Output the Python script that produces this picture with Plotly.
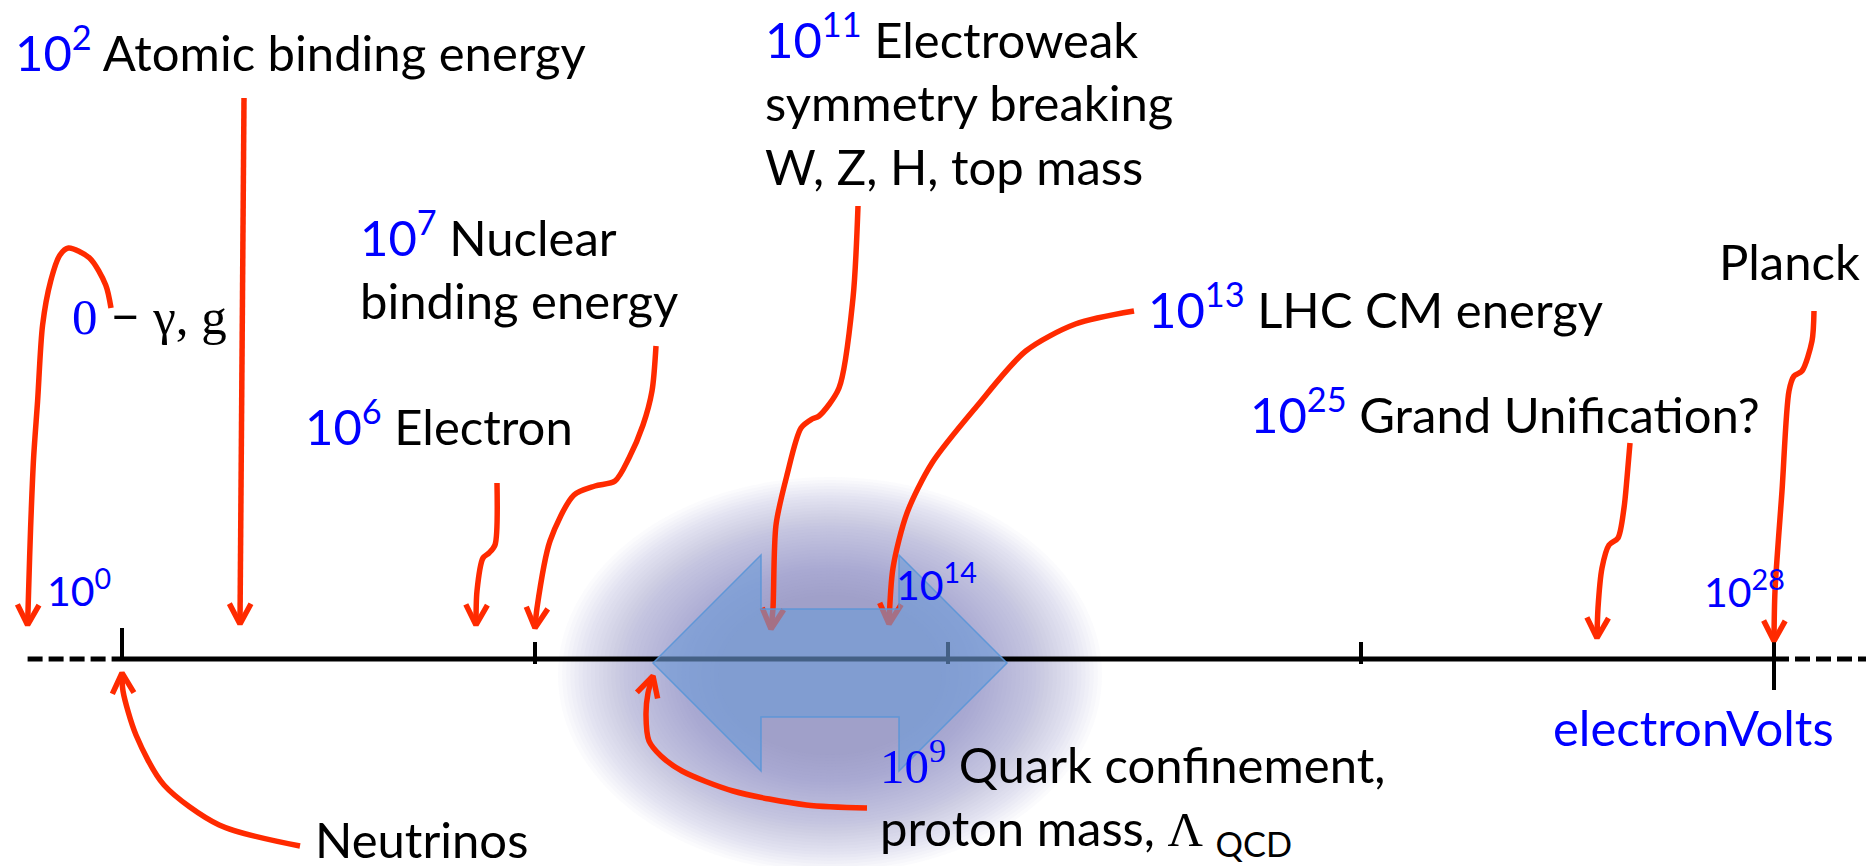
import numpy as np
import plotly.graph_objects as go

# ---------------- data (energy scale, log10 of E / eV) ----------------
tick_exponents = [0, 7, 14, 21, 28]
labelled_ticks = [0, 14, 28]
labelled_tick_text = ["10<sup>0</sup>", "10<sup>14</sup>", "10<sup>28</sup>"]

scale_keys = ["neutrino", "atomic", "electron", "nuclear", "qcd",
              "electroweak", "lhc", "gut", "planck"]
scale_exponents = [0, 2, 6, 7, 9, 11, 13, 25, 28]
massless_position = -1.6      # "0" (photon, gluon): on the broken, dashed part of the axis
probed_range = [9, 15]        # blue double arrow

# ---------------- layout constants ----------------
W, H = 1874, 866
X0_PX, PX_PER_DEC = 114, 59          # pixel of 10^0 and pixels per decade
AXIS_Y = 651
RED = "#ff2a00"
BLUE = "#0000ff"
FONT = "Lato"
SERIF = "Liberation Serif"
FS = 49


def e2px(e):
    return X0_PX + np.asarray(e, float) * PX_PER_DEC


def px2e(p):
    return (np.asarray(p, float) - X0_PX) / PX_PER_DEC


XMIN, XMAX = float(px2e(0)), float(px2e(W))

# hand-drawn connector shapes (pixel waypoints, last point = arrow tip)
connector_paths = {
    "massless": [(103, 300), (98, 277), (83, 250), (63, 240), (55, 247), (47, 273), (40, 317),
                 (35, 393), (31, 450), (28, 520), (26, 583), (25, 617)],
    "neutrino": [(292, 838), (245, 817), (204, 777), (176, 727), (163, 683), (162, 665)],
    "atomic": [(249, 90), (245, 616)],
    "electron": [(457, 475), (455, 537), (449, 545), (443, 550), (437, 583), (436, 617)],
    "nuclear": [(637, 338), (633, 383), (624, 417), (610, 450), (596, 473), (576, 478),
                (555, 487), (531, 533), (518, 600), (516, 620)],
    "qcd": [(859, 800), (793, 797), (717, 783), (666, 763), (645, 748), (633, 733),
            (630, 707), (632, 685), (637, 668)],
    "electroweak": [(831, 198), (826, 290), (812, 380), (792, 408), (785, 411), (774, 420),
                    (760, 467), (749, 517), (746, 600), (744, 621)],
    "lhc": [(1126, 303), (1060, 316), (1000, 343), (950, 398), (905, 455), (880, 505),
            (866, 560), (862, 616)],
    "gut": [(1610, 435), (1607, 470), (1604, 500), (1598, 530), (1589, 537), (1582, 560),
            (1578, 600), (1577, 630)],
    "planck": [(1842, 303), (1840, 333), (1830, 363), (1822, 368), (1817, 383), (1810, 483),
               (1803, 583), (1802, 633)],
}
# connectors whose start stays pinned beside its label (others move as a whole)
pinned_start = {"massless", "neutrino", "qcd", "lhc"}

fig = go.Figure()

# ---------------- axis ----------------
fig.add_trace(go.Scatter(x=[0, 28], y=[AXIS_Y, AXIS_Y], mode="lines",
                         line=dict(color="black", width=5), hoverinfo="skip"))
fig.add_trace(go.Scatter(x=[massless_position, 0], y=[AXIS_Y, AXIS_Y], mode="lines",
                         line=dict(color="black", width=5, dash="15px,6px"), hoverinfo="skip"))
fig.add_trace(go.Scatter(x=[28, XMAX], y=[AXIS_Y, AXIS_Y], mode="lines",
                         line=dict(color="black", width=5, dash="15px,6px"), hoverinfo="skip"))
for t in tick_exponents:
    if t == tick_exponents[0]:
        y0, y1 = 620, AXIS_Y
    elif t == tick_exponents[-1]:
        y0, y1 = 633, 682
    else:
        y0, y1 = 634, 656
    fig.add_trace(go.Scatter(x=[t, t], y=[y0, y1], mode="lines",
                             line=dict(color="black", width=4), hoverinfo="skip"))


# ---------------- red arrows ----------------
def add_arrow(points, tip_e, pinned):
    pts = np.array(points, float)
    dx = float(e2px(tip_e)) - pts[-1, 0]
    if pinned:
        seg = np.hypot(np.diff(pts[:, 0]), np.diff(pts[:, 1]))
        t = np.concatenate([[0.0], np.cumsum(seg)]) / seg.sum()
        w = np.clip(t / 0.35, 0, 1)
        w = w * w * (3 - 2 * w)
    else:
        w = np.ones(len(pts))
    pts[:, 0] += dx * w
    fig.add_trace(go.Scatter(x=px2e(pts[:, 0]), y=pts[:, 1], mode="lines",
                             line=dict(color=RED, width=5.5, shape="spline", smoothing=0.8),
                             hoverinfo="skip"))
    tip = pts[-1]
    d = pts[-1] - pts[-2]
    d = d / np.hypot(*d)
    L, ang = 23, np.radians(28)
    arms = []
    for s in (1, -1):
        c, sn = np.cos(s * ang), np.sin(s * ang)
        r = np.array([d[0] * c - d[1] * sn, d[0] * sn + d[1] * c])
        arms.append(tip - L * r)
    hx = [arms[0][0], tip[0], arms[1][0]]
    hy = [arms[0][1], tip[1], arms[1][1]]
    fig.add_trace(go.Scatter(x=px2e(hx), y=hy, mode="lines",
                             line=dict(color=RED, width=5.5), hoverinfo="skip"))


add_arrow(connector_paths["massless"], massless_position, True)
for key, ex in zip(scale_keys, scale_exponents):
    add_arrow(connector_paths[key], ex, key in pinned_start)

# ---------------- glow + blue double arrow ----------------
shapes = []
mid_e = (probed_range[0] + probed_range[1]) / 2
gcx, gcy = float(e2px(mid_e)), 667
n = 40
for i in range(n):
    f = i / (n - 1)
    rx = 272 - 160 * f
    ry = 198 - 118 * f
    shapes.append(dict(type="circle", xref="x", yref="y", layer="below",
                       x0=float(px2e(gcx - rx)), x1=float(px2e(gcx + rx)),
                       y0=gcy - ry, y1=gcy + ry,
                       fillcolor="rgb(150,155,207)", opacity=0.034, line=dict(width=0)))

xl, xr = float(e2px(probed_range[0])), float(e2px(probed_range[1]))
cy, head, sh, hh = 655, 108, 54, 108
poly = [(xl, cy), (xl + head, cy - hh), (xl + head, cy - sh), (xr - head, cy - sh),
        (xr - head, cy - hh), (xr, cy), (xr - head, cy + hh), (xr - head, cy + sh),
        (xl + head, cy + sh), (xl + head, cy + hh)]
path = "M " + " L ".join(f"{float(px2e(px)):.4f},{py}" for px, py in poly) + " Z"
shapes.append(dict(type="path", xref="x", yref="y", layer="above", path=path,
                   fillcolor="rgba(110,155,215,0.62)",
                   line=dict(color="rgba(90,150,215,0.9)", width=1.5)))


# ---------------- text ----------------
def blue(s, serif=False):
    fam = f"font-family:{SERIF};" if serif else ""
    return f"<span style='{fam}color:{BLUE}'>{s}</span>"


def label(px, py, text, size=FS, color="black", family=FONT, xanchor="left"):
    return dict(x=px / W, y=1 - py / H, xref="paper", yref="paper", text=text,
                showarrow=False, xanchor=xanchor, yanchor="middle", align="left",
                borderpad=0, font=dict(family=family, size=size, color=color))


LS = 1.3 * FS
DY = -12
DX = -6
annotations = [
    label(12 + DX, 52 + DY, blue("10<sup>2</sup>") + " Atomic binding energy"),
    label(762 + DX, 30 + LS + DY + 9, blue("10<sup>11</sup>") + " Electroweak<br>symmetry breaking<br>W, Z, H, top mass"),
    label(357 + DX, 237 + LS / 2 + DY, blue("10<sup>7</sup>") + " Nuclear<br>binding energy"),
    label(302 + DX, 426 + DY, blue("10<sup>6</sup>") + " Electron"),
    label(71 - 8, 316 - 9, blue("0", serif=True) + " − " + f"<span style='font-family:{SERIF}'>γ, g</span>", size=51),
    label(1145 + DX, 309 + DY, blue("10<sup>13</sup>") + " LHC CM energy"),
    label(1247 + DX, 414 + DY, blue("10<sup>25</sup>") + " Grand Unification?"),
    label(1716 + DX, 265 + DY, "Planck"),
    label(1550 + DX, 731 + DY, "electronVolts", color=BLUE),
    label(312 + DX, 843 + DY, "Neutrinos"),
    label(883 - 12, 773 + LS / 2 + DY - 3, blue("10<sup>9</sup>", serif=True) + " Quark confinement,<br>proton mass, "
          + f"<span style='font-family:{SERIF}'>Λ</span> <sub>QCD</sub>"),
]
tick_label_y = [591 - 11, 584 - 10, 592 - 11]
tick_label_anchor = ["right", "center", "right"]
tick_label_shift = [-10, -12, 12]
for e, txt, yy, anc, sh_ in zip(labelled_ticks, labelled_tick_text, tick_label_y,
                                tick_label_anchor, tick_label_shift):
    annotations.append(dict(x=e, xref="x", y=yy, yref="y", text=txt, showarrow=False,
                            xanchor=anc, yanchor="middle", xshift=sh_, borderpad=0,
                            font=dict(family=FONT, size=41, color=BLUE)))

fig.update_layout(
    width=W, height=H, margin=dict(l=0, r=0, t=0, b=0),
    paper_bgcolor="white", plot_bgcolor="white", showlegend=False,
    xaxis=dict(range=[XMIN, XMAX], visible=False, fixedrange=True),
    yaxis=dict(range=[H, 0], visible=False, fixedrange=True),
    shapes=shapes, annotations=annotations,
)

fig.write_html("out.html", config={"displayModeBar": False, "staticPlot": True})
